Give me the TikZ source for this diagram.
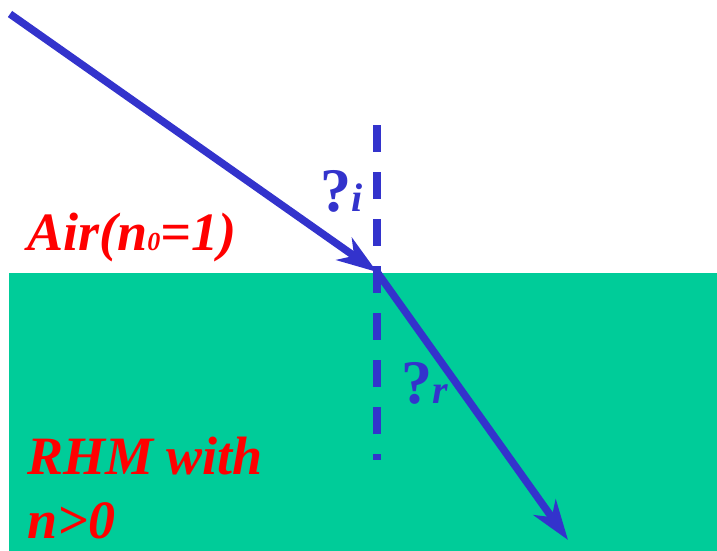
\documentclass[tikz,border=0pt]{standalone}
\usepackage{fontspec}
\setmainfont{Liberation Serif}
\usetikzlibrary{arrows.meta}
\definecolor{rayblue}{RGB}{51,51,204}
\definecolor{rhmgreen}{RGB}{0,204,153}
\definecolor{labred}{RGB}{255,0,0}
\begin{document}
\begin{tikzpicture}[x=1pt,y=-1pt,
  ray/.style={rayblue,line width=7.5pt,-{Stealth[length=40pt,width=27pt,inset=12pt]}},
  normal/.style={rayblue,line width=8pt,dash pattern=on 27pt off 20pt},
  redlab/.style={labred,font=\fontsize{54}{64}\selectfont\bfseries\itshape,anchor=base west,inner sep=0pt},
  anglab/.style={rayblue,anchor=base west,inner sep=0pt}]
\useasboundingbox (0,0) rectangle (717,551);
\fill[rhmgreen] (9,273) rectangle (717,551);
\coordinate (start) at (10,14);
\coordinate (hit) at (377,272);
\coordinate (endr) at (568,540);
\coordinate (ntop) at (377,125);
\coordinate (nbot) at (377,460);
\draw[normal] (ntop) -- (nbot);
\draw[ray] (start) -- (hit);
\draw[ray] (hit) -- (endr);
\node[anglab] (ti) at (320,211) {\fontsize{62}{62}\selectfont\bfseries ?\fontsize{40}{40}\selectfont\itshape i};
\node[anglab] (tr) at (401,403) {\fontsize{62}{62}\selectfont\bfseries ?\fontsize{40}{40}\selectfont\itshape r};
\node[redlab] (air) at (27,250) {Air(n{\fontsize{26}{26}\selectfont 0}=1)};
\node[redlab] (rhm) at (27,474) {RHM with};
\node[redlab] (npos) at (27,538) {n>0};
\end{tikzpicture}
\end{document}
